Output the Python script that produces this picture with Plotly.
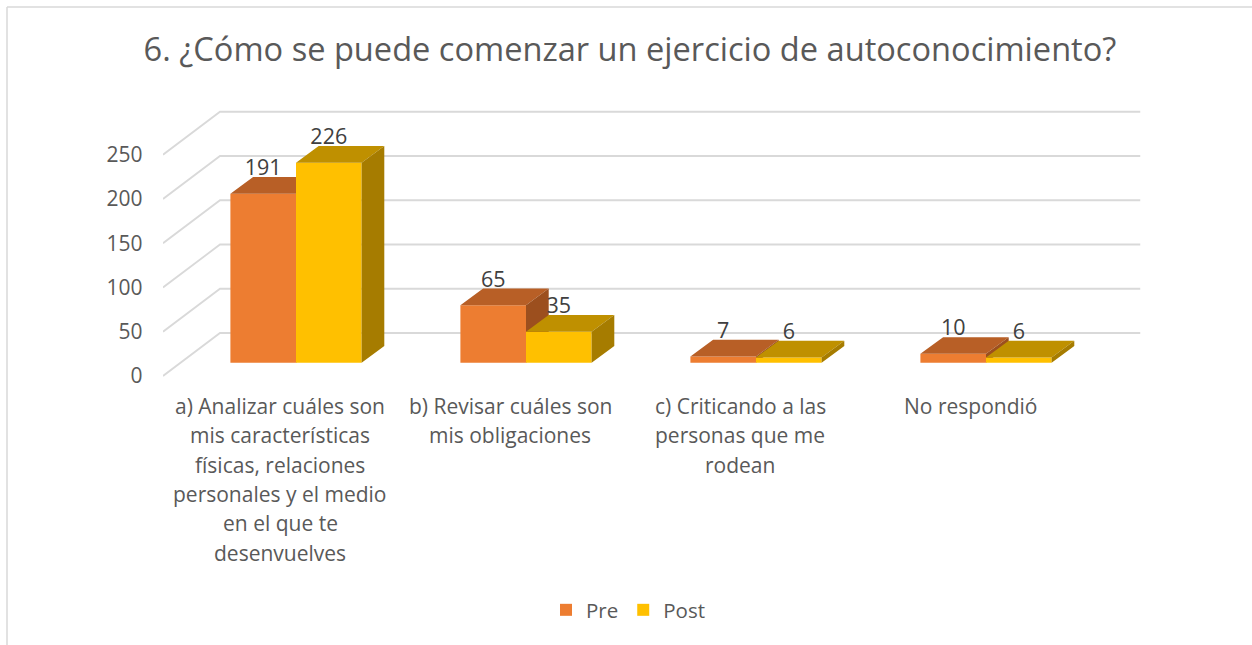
import plotly.graph_objects as go

TITLE = "6. ¿Cómo se puede comenzar un ejercicio de autoconocimiento?"
CATEGORIES = [
    "a) Analizar cuáles son\nmis características\nfísicas, relaciones\npersonales y el medio\nen el que te\ndesenvuelves",
    "b) Revisar cuáles son\nmis obligaciones",
    "c) Criticando a las\npersonas que me\nrodean",
    "No respondió",
]
PRE = [191, 65, 7, 10]
POST = [226, 35, 6, 6]
Y_TICKS = [0, 50, 100, 150, 200, 250]

W, H = 1252, 645
FONT = "Open Sans"
GRID = "#D9D9D9"
TEXT = "#595959"
PPU = 0.885          # pixels per value unit
CAT_PX = 230.0       # pixels per category
X0_PX = 296.0        # pixel of first category centre
DOM_TOP, DOM_BOT = 100, 385
DOM_L, WALL_L, WALL_R = 163.0, 220.0, 1140.5
BAR_W = 65.6 / CAT_PX
BAR_DX = 22.7 / CAT_PX
BAR_DY = 16.7 / PPU
WALL_DX = 57.0 / CAT_PX
WALL_DY = 43.0 / PPU
LABEL_UP = 27


def y_range(zero_px):
    return [(zero_px - DOM_BOT) / PPU, (zero_px - DOM_TOP) / PPU]


def to_x(px):
    return (px - X0_PX) / CAT_PX


def faces(values, left_offset):
    top_x, top_y, side_x, side_y = [], [], [], []
    for i, v in enumerate(values):
        l = i + left_offset
        r = l + BAR_W
        top_x += [l, r, r + BAR_DX, l + BAR_DX, l, None]
        top_y += [v, v, v + BAR_DY, v + BAR_DY, v, None]
        side_x += [r, r + BAR_DX, r + BAR_DX, r, r, None]
        side_y += [v, v + BAR_DY, BAR_DY, 0, v, None]
    return top_x, top_y, side_x, side_y


def poly(x, y, color, yaxis):
    return go.Scatter(x=x, y=y, fill="toself", fillcolor=color, mode="lines",
                      line=dict(width=0, color=color), yaxis=yaxis,
                      showlegend=False, hoverinfo="skip", cliponaxis=False)


fig = go.Figure()
xs = list(range(len(CATEGORIES)))

# gridlines: diagonal on the side wall, then straight along the back wall
gx, gy = [], []
wl, wr = to_x(WALL_L), to_x(WALL_R)
for t in Y_TICKS:
    gx += [wl - WALL_DX, wl, wr, None]
    gy += [t - WALL_DY, t, t, None]
fig.add_trace(go.Scatter(x=gx, y=gy, mode="lines", line=dict(color=GRID, width=1.8),
                         yaxis="y", showlegend=False, hoverinfo="skip"))
# invisible trace that keeps the tick-label axis alive
fig.add_trace(go.Scatter(x=[xs[0]], y=[Y_TICKS[0]], mode="markers", marker=dict(opacity=0),
                         yaxis="y2", showlegend=False, hoverinfo="skip"))

# Pre
fig.add_trace(go.Bar(x=xs, y=PRE, name="Pre", marker=dict(color="#ED7D31", line=dict(width=0)),
                     offset=-BAR_W, width=BAR_W, yaxis="y3", hoverinfo="y+name"))
tx, ty, sx, sy = faces(PRE, -BAR_W)
fig.add_trace(poly(tx, ty, "#B85F26", "y3"))
fig.add_trace(poly(sx, sy, "#9C4F1E", "y3"))
# Post
fig.add_trace(go.Bar(x=xs, y=POST, name="Post", marker=dict(color="#FFC000", line=dict(width=0)),
                     offset=0, width=BAR_W, yaxis="y4", hoverinfo="y+name"))
tx, ty, sx, sy = faces(POST, 0)
fig.add_trace(poly(tx, ty, "#BF9000", "y4"))
fig.add_trace(poly(sx, sy, "#A67C00", "y4"))

# data labels
for vals, off in ((PRE, -BAR_W / 2), (POST, BAR_W / 2)):
    fig.add_trace(go.Scatter(x=[i + off for i in xs], y=[v + LABEL_UP for v in vals],
                             text=[str(v) for v in vals], mode="text", textposition="middle center",
                             textfont=dict(family=FONT, size=21.5, color="#404040"),
                             yaxis="y4", showlegend=False, hoverinfo="skip", cliponaxis=False))

dom = [1 - DOM_BOT / H, 1 - DOM_TOP / H]
hidden = dict(domain=dom, overlaying="y", showgrid=False, zeroline=False, showticklabels=False,
              ticks="", showline=False, anchor="x")
fig.update_layout(
    width=W, height=H, margin=dict(l=0, r=0, t=0, b=0, autoexpand=False), autosize=False,
    paper_bgcolor="white", plot_bgcolor="rgba(0,0,0,0)",
    font=dict(family=FONT, color=TEXT, size=20),
    title=dict(text=TITLE, x=630 / W, xanchor="center", y=1 - 50 / H, yanchor="middle",
               font=dict(family=FONT, size=32.6, color=TEXT)),
    barmode="overlay",
    xaxis=dict(domain=[DOM_L / W, WALL_R / W], range=[to_x(DOM_L), to_x(WALL_R)],
               showgrid=False, zeroline=False, showticklabels=False, ticks="", showline=False),
    yaxis=dict(domain=dom, range=y_range(333.0), showgrid=False, zeroline=False,
               showticklabels=False, ticks="", showline=False),
    yaxis2=dict(domain=dom, overlaying="y", anchor="free", position=142.5 / W, side="left",
                range=y_range(376.0), tickvals=Y_TICKS, showgrid=False, zeroline=False,
                showline=False, ticks="", tickfont=dict(family=FONT, size=21, color=TEXT)),
    yaxis3=dict(range=y_range(362.7), **hidden),
    yaxis4=dict(range=y_range(362.7), **hidden),
    legend=dict(orientation="h", x=628 / W, xanchor="center", y=1 - 610 / H, yanchor="middle",
                font=dict(family=FONT, size=20.5, color=TEXT), bgcolor="rgba(0,0,0,0)",
                traceorder="normal"),
    shapes=[
        dict(type="line", xref="paper", yref="paper", x0=7 / W, x1=1, y0=1 - 7 / H, y1=1 - 7 / H,
             line=dict(color=GRID, width=1.5)),
        dict(type="line", xref="paper", yref="paper", x0=7 / W, x1=7 / W, y0=1 - 7 / H, y1=0,
             line=dict(color=GRID, width=1.5)),
    ],
)

# category labels, one annotation per line to keep the original line spacing
for i, cat in enumerate(CATEGORIES):
    for k, line in enumerate(cat.split("\n")):
        fig.add_annotation(x=i - 16.0 / CAT_PX, xref="x", y=1 - (406 + 29.3 * k) / H, yref="paper",
                           text=line, showarrow=False, xanchor="center", yanchor="middle",
                           font=dict(family=FONT, size=21, color=TEXT))

fig.write_html("out.html", config=dict(displayModeBar=False),
               post_script="document.body.style.margin='0';document.body.style.overflow='hidden';")
